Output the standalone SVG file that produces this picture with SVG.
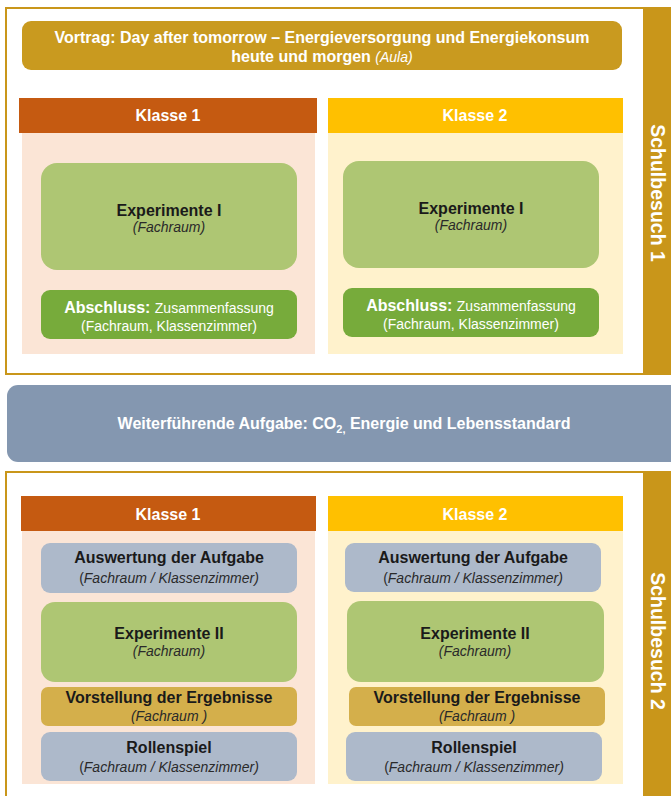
<svg xmlns="http://www.w3.org/2000/svg" width="671" height="796" viewBox="0 0 671 796">
<style>
text{font-family:"Liberation Sans",Arial,sans-serif;text-anchor:middle}
.frame{fill:#FFFFFF;stroke:#C9961A;stroke-width:2}
.bar{fill:#C9961A}
.side{font-size:19.5px;font-weight:bold;fill:#FFFFFF}
.h1{fill:#C55A11}.bg1{fill:#FBE5D6}
.h2{fill:#FFC000}.bg2{fill:#FFF2CC}
.hdr{font-size:16px;font-weight:bold;fill:#FFFFFF}
.exp{fill:#AEC673}
.abs{fill:#77AB3B}
.gray{fill:#ADB9CA}
.vor{fill:#D4AF4B}
.t{font-size:16px;font-weight:bold;fill:#1A1A1A}
.s{font-size:14px;font-style:italic;fill:#2A2A2A}
.w{font-size:16px;font-weight:bold;fill:#FFFFFF}
.wn{font-size:14px;font-weight:normal;fill:#FFFFFF}
</style>
<rect width="671" height="796" fill="#FFFFFF"/>

<g id="schulbesuch1">
<rect class="frame" x="6" y="8" width="638" height="366"/>
<rect class="bar" x="644" y="7" width="27" height="368"/>
<text class="side" transform="rotate(90 657.5 193)" x="657.5" y="193" dominant-baseline="central">Schulbesuch 1</text>
</g>

<g id="vortrag">
<rect x="22" y="21" width="600" height="49" rx="9" fill="#C99A1F"/>
<text class="w" x="322" y="43">Vortrag: Day after tomorrow – Energieversorgung und Energiekonsum</text>
<text class="w" x="322" y="62">heute und morgen <tspan font-weight="normal" font-style="italic" font-size="14px">(Aula)</tspan></text>
</g>

<g id="s1-klasse1">
<rect class="bg1" x="22" y="133" width="293" height="221"/>
<rect class="h1" x="19" y="98" width="298" height="35"/>
<text class="hdr" x="168" y="121">Klasse 1</text>
</g>
<g id="s1-klasse2">
<rect class="bg2" x="328" y="133" width="295" height="221"/>
<rect class="h2" x="328" y="98" width="295" height="35"/>
<text class="hdr" x="475" y="121">Klasse 2</text>
</g>

<g id="s1-k1-exp">
<rect class="exp" x="41" y="163" width="256" height="107" rx="16"/>
<text class="t" x="169" y="216">Experimente I</text>
<text class="s" x="169" y="232">(Fachraum)</text>
</g>
<g id="s1-k1-abs">
<rect class="abs" x="41" y="290" width="256" height="49" rx="9"/>
<text class="w" x="169" y="313">Abschluss: <tspan class="wn">Zusammenfassung</tspan></text>
<text class="wn" x="169" y="331">(Fachraum, Klassenzimmer)</text>
</g>
<g id="s1-k2-exp">
<rect class="exp" x="343" y="161" width="256" height="107" rx="16"/>
<text class="t" x="471" y="214">Experimente I</text>
<text class="s" x="471" y="230">(Fachraum)</text>
</g>
<g id="s1-k2-abs">
<rect class="abs" x="343" y="288" width="256" height="49" rx="9"/>
<text class="w" x="471" y="311">Abschluss: <tspan class="wn">Zusammenfassung</tspan></text>
<text class="wn" x="471" y="329">(Fachraum, Klassenzimmer)</text>
</g>

<g id="aufgabe">
<rect x="7" y="385" width="680" height="77" rx="11" fill="#8497B0"/>
<text class="w" x="344" y="429">Weiterführende Aufgabe: CO<tspan font-size="11px" dy="4">2,</tspan><tspan dy="-4"> Energie und Lebensstandard</tspan></text>
</g>

<g id="schulbesuch2">
<rect class="frame" x="6" y="472" width="638" height="340"/>
<rect class="bar" x="644" y="471" width="27" height="330"/>
<text class="side" transform="rotate(90 657.5 641)" x="657.5" y="641" dominant-baseline="central">Schulbesuch 2</text>
</g>

<g id="s2-klasse1">
<rect class="bg1" x="22" y="531" width="293" height="253"/>
<rect class="h1" x="21" y="496" width="295" height="35"/>
<text class="hdr" x="168" y="520">Klasse 1</text>
</g>
<g id="s2-klasse2">
<rect class="bg2" x="328" y="531" width="295" height="253"/>
<rect class="h2" x="328" y="496" width="295" height="35"/>
<text class="hdr" x="475" y="520">Klasse 2</text>
</g>

<g id="s2-k1-ausw">
<rect class="gray" x="41" y="543" width="256" height="50" rx="9"/>
<text class="t" x="169" y="563">Auswertung der Aufgabe</text>
<text class="s" x="169" y="583"><tspan font-style="normal">(</tspan>Fachraum / Klassenzimmer)</text>
</g>
<g id="s2-k1-exp">
<rect class="exp" x="41" y="602" width="256" height="80" rx="14"/>
<text class="t" x="169" y="639">Experimente II</text>
<text class="s" x="169" y="656">(Fachraum)</text>
</g>
<g id="s2-k1-vor">
<rect class="vor" x="41" y="687" width="256" height="39" rx="7"/>
<text class="t" x="169" y="703">Vorstellung der Ergebnisse</text>
<text class="s" x="169" y="721">(Fachraum )</text>
</g>
<g id="s2-k1-rolle">
<rect class="gray" x="41" y="732" width="256" height="49" rx="9"/>
<text class="t" x="169" y="753">Rollenspiel</text>
<text class="s" x="169" y="772"><tspan font-style="normal">(</tspan>Fachraum / Klassenzimmer)</text>
</g>

<g id="s2-k2-ausw">
<rect class="gray" x="345" y="543" width="256" height="49" rx="9"/>
<text class="t" x="473" y="563">Auswertung der Aufgabe</text>
<text class="s" x="473" y="583"><tspan font-style="normal">(</tspan>Fachraum / Klassenzimmer)</text>
</g>
<g id="s2-k2-exp">
<rect class="exp" x="347" y="601" width="257" height="81" rx="14"/>
<text class="t" x="475" y="639">Experimente II</text>
<text class="s" x="475" y="656">(Fachraum)</text>
</g>
<g id="s2-k2-vor">
<rect class="vor" x="349" y="687" width="256" height="39" rx="7"/>
<text class="t" x="477" y="703">Vorstellung der Ergebnisse</text>
<text class="s" x="477" y="721">(Fachraum )</text>
</g>
<g id="s2-k2-rolle">
<rect class="gray" x="346" y="732" width="256" height="49" rx="9"/>
<text class="t" x="474" y="753">Rollenspiel</text>
<text class="s" x="474" y="772"><tspan font-style="normal">(</tspan>Fachraum / Klassenzimmer)</text>
</g>

<g id="connectors"></g>
</svg>
